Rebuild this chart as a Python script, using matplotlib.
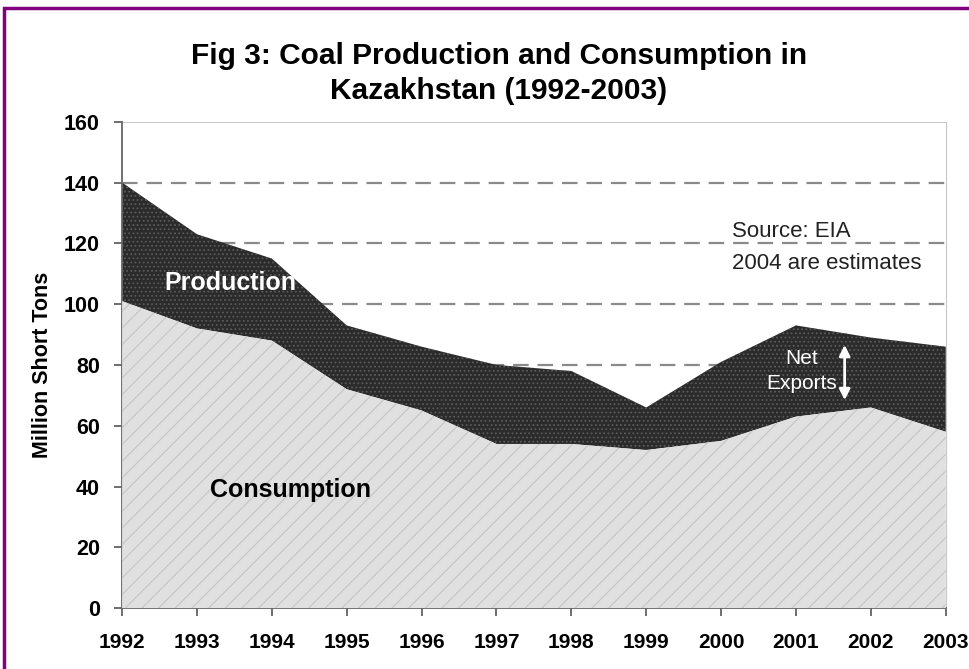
import matplotlib
matplotlib.use("Agg")
import matplotlib.pyplot as plt
from matplotlib.patches import Rectangle

years = [1992, 1993, 1994, 1995, 1996, 1997, 1998, 1999, 2000, 2001, 2002, 2003]
production = [140, 123, 115, 93, 86, 80, 78, 66, 81, 93, 89, 86]
consumption = [101, 92, 88, 72, 65, 54, 54, 52, 55, 63, 66, 58]
y_ticks = [0, 20, 40, 60, 80, 100, 120, 140, 160]

plt.rcParams["font.family"] = ["Liberation Sans", "DejaVu Sans"]
plt.rcParams["hatch.linewidth"] = 0.8

fig = plt.figure(figsize=(9.69, 6.69), dpi=100)
ax = fig.add_axes([0.126, 0.091, 0.85, 0.727])

# purple frame around the whole figure
fig.patches.append(Rectangle((4 / 969, -0.05), 1.1, 1 - 8 / 669 + 0.05,
                             transform=fig.transFigure, fill=False,
                             edgecolor="#800080", linewidth=2.5))

for v in y_ticks[1:-1]:
    ax.axhline(v, color="#8a8a8a", linestyle=(0, (7, 4)), linewidth=1.6, zorder=0)
ax.axhline(160, color="#c8c8c8", linewidth=1.5, zorder=0)

ax.fill_between(years, consumption, production, facecolor="#2b2b2b",
                edgecolor="#5a5a5a", hatch="....", linewidth=0, zorder=2)
ax.fill_between(years, 0, consumption, facecolor="#e0e0e0",
                edgecolor="#c4c4c4", hatch="//", linewidth=0, zorder=3)

ax.text(1993.45, 107, "Production", color="white", fontsize=18, fontweight="bold",
        ha="center", va="center", zorder=5)
ax.text(1994.25, 39, "Consumption", color="black", fontsize=18, fontweight="bold",
        ha="center", va="center", zorder=5)
ax.text(2000.15, 124, "Source: EIA", fontsize=16, color="#222222", va="center")
ax.text(2000.15, 113.5, "2004 are estimates", fontsize=16, color="#222222", va="center")
ax.text(2001.08, 78, "Net\nExports", fontsize=15, color="white", ha="center",
        va="center", linespacing=1.45, zorder=5)
ax.annotate("", xy=(2001.65, 67.5), xytext=(2001.65, 87.5),
            arrowprops=dict(arrowstyle="<|-|>", color="white", lw=2,
                            mutation_scale=16), zorder=5)

ax.set_xlim(1992, 2003)
ax.set_ylim(0, 160)
ax.set_xticks(years)
ax.set_xticklabels([str(y) for y in years], fontsize=15, fontweight="bold")
ax.set_yticks(y_ticks)
ax.set_yticklabels([str(v) for v in y_ticks], fontsize=15.5, fontweight="bold")
ax.tick_params(axis="both", direction="out", length=6, color="#555555", width=1.2)
ax.tick_params(axis="x", pad=12)
ax.tick_params(axis="y", pad=10)
ax.set_ylabel("Million Short Tons", fontsize=15.5, fontweight="bold", labelpad=8)

for side in ["left", "bottom"]:
    ax.spines[side].set_color("#666666")
    ax.spines[side].set_linewidth(1.3)
ax.spines["top"].set_visible(False)
ax.spines["right"].set_color("#c8c8c8")

fig.text(0.515, 0.89, "Fig 3: Coal Production and Consumption in\nKazakhstan (1992-2003)",
         ha="center", va="center", fontsize=21.5, fontweight="bold", linespacing=1.3)

fig.savefig("out.png", dpi=100)
